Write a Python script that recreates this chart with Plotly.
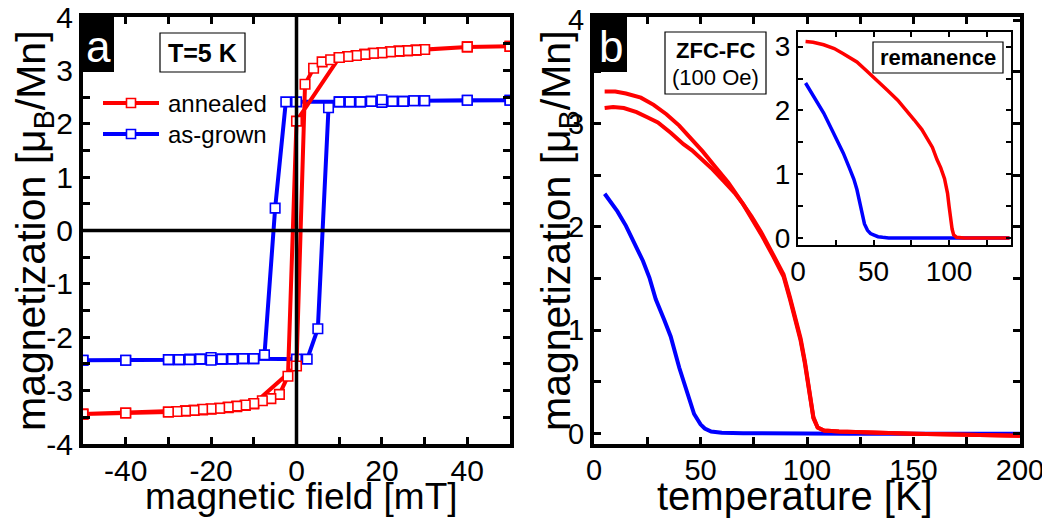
import plotly.graph_objects as go

# The page body adds an 8 px margin, so the figure is 8 px smaller and all
# reference pixel positions are shifted by that offset.
OFF = 8
W, H = 1050 - OFF, 518 - OFF
FONT = "Liberation Sans, Arial, sans-serif"
RED = "#FF0000"
BLUE = "#0000FF"

# ---------------- data: panel a (hysteresis at 5 K) ----------------
ann_asc_H = [-50, -40, -30, -28, -26, -24, -22, -20, -18, -16, -14, -12, -10, 0,
             2, 4, 6, 8, 10, 12, 14, 16, 18, 20, 22, 24, 26, 28, 30, 40, 50]
ann_asc_M = [-3.44, -3.42, -3.40, -3.39, -3.38, -3.37, -3.36, -3.35, -3.33, -3.32, -3.30, -3.28, -3.25, -2.54,
             2.74, 3.04, 3.16, 3.20, 3.24, 3.26, 3.28, 3.30, 3.32, 3.33, 3.35, 3.36, 3.37, 3.38, 3.39, 3.44, 3.45]
ann_desc_H = [50, 40, 30, 28, 26, 24, 22, 20, 18, 16, 14, 12, 10, 0,
              -2, -4, -6, -8, -10, -12, -14, -16, -18, -20, -22, -24, -26, -28, -30, -40, -50]
ann_desc_M = [3.45, 3.44, 3.39, 3.38, 3.37, 3.36, 3.35, 3.33, 3.32, 3.30, 3.28, 3.26, 3.24, 2.05,
              -2.73, -3.07, -3.15, -3.19, -3.24, -3.27, -3.29, -3.31, -3.33, -3.34, -3.35, -3.37, -3.38, -3.39, -3.40, -3.42, -3.44]

asg_asc_H = [-50, -40, -30, -27.5, -25, -22.5, -20, -17.5, -15, -12.5, -10, 0,
             2.5, 5, 7.5, 10, 12.5, 15, 17.5, 20, 22.5, 25, 27.5, 30, 40, 50]
asg_asc_M = [-2.43, -2.43, -2.42, -2.42, -2.41, -2.41, -2.38, -2.41, -2.40, -2.40, -2.40, -2.41,
             -2.41, -1.84, 2.30, 2.41, 2.41, 2.41, 2.42, 2.40, 2.42, 2.42, 2.43, 2.43, 2.44, 2.44]
asg_desc_H = [50, 40, 30, 27.5, 25, 22.5, 20, 17.5, 15, 12.5, 10, 0,
              -2.5, -5, -7.5, -10, -12.5, -15, -17.5, -20, -22.5, -25, -27.5, -30, -40, -50]
asg_desc_M = [2.44, 2.44, 2.43, 2.43, 2.42, 2.42, 2.45, 2.42, 2.41, 2.41, 2.41, 2.41,
              2.41, 0.42, -2.33, -2.40, -2.40, -2.41, -2.41, -2.43, -2.41, -2.42, -2.42, -2.42, -2.43, -2.43]

field_ticks = [-40, -20, 0, 20, 40]
field_labels = ["-40", "-20", "0", "20", "40"]
mag_ticks_a = [-4, -3, -2, -1, 0, 1, 2, 3, 4]
mag_labels_a = ["-4", "-3", "-2", "-1", "0", "1", "2", "3", "4"]

# ---------------- data: panel b (ZFC-FC, 100 Oe) ----------------
fc_T = [5, 10, 15, 22, 28, 34, 40, 45, 51, 57, 63, 68, 74, 79, 84, 89, 92, 95, 97, 99,
        101, 103, 105, 108, 115, 130, 150, 175, 200]
fc_M = [3.31, 3.31, 3.29, 3.25, 3.18, 3.09, 2.98, 2.87, 2.73, 2.58, 2.43, 2.28, 2.10, 1.93, 1.74, 1.54, 1.32, 1.10, 0.92, 0.70,
        0.42, 0.16, 0.06, 0.03, 0.02, 0.01, 0.0, -0.01, -0.02]
zfc_T = [5, 9, 14, 20, 25, 30, 36, 42, 46, 50, 55, 61, 66, 70, 74, 79, 84, 89, 92, 95,
         97, 99, 101, 103, 105, 108, 115, 130, 150, 175, 200]
zfc_M = [3.15, 3.16, 3.15, 3.11, 3.06, 3.01, 2.91, 2.80, 2.74, 2.67, 2.57, 2.44, 2.33, 2.22, 2.09, 1.91, 1.72, 1.52, 1.30, 1.08,
         0.90, 0.68, 0.40, 0.15, 0.06, 0.03, 0.02, 0.01, 0.0, -0.01, -0.02]
asg_T = [5, 8, 11, 15, 19, 23, 26, 29, 33, 36, 40, 43, 45, 47, 50, 52, 55, 60, 70, 90, 120, 160, 200]
asg_Mzfc = [2.32, 2.24, 2.15, 2.01, 1.85, 1.67, 1.51, 1.30, 1.10, 0.94, 0.64, 0.45, 0.33, 0.19, 0.09, 0.05, 0.02, 0.01,
            0.005, 0.0, 0.0, 0.0, 0.0]

# ---------------- data: inset (remanence) ----------------
ann_rem_T = [5, 10, 17, 24, 30, 39, 45, 52, 59, 66, 72, 77, 82, 86, 89, 92, 94.5, 97, 99, 100,
             101, 102, 103, 105, 110, 120, 130, 140]
ann_rem_M = [3.08, 3.07, 3.03, 2.97, 2.89, 2.76, 2.63, 2.48, 2.32, 2.16, 2.00, 1.85, 1.70, 1.54, 1.42, 1.23, 1.10, 0.93, 0.70, 0.50,
             0.30, 0.14, 0.05, 0.01, 0.0, 0.0, 0.0, 0.0]
asg_rem_T = [5, 10, 17, 23, 30, 34, 37, 39, 41.5, 44, 46, 48, 50, 53, 56, 60, 80, 100, 120, 140]
asg_rem_M = [2.43, 2.24, 1.96, 1.67, 1.33, 1.10, 0.92, 0.76, 0.46, 0.22, 0.12, 0.07, 0.05, 0.02, 0.01, 0.0, 0.0, 0.0, 0.0, 0.0]


def pxx(x):
    return (x - OFF) / W


def pyy(y):
    return 1 - (y - OFF) / H


fig = go.Figure()

sq = lambda c: dict(symbol="square", size=9.5, color="white", line=dict(color=c, width=1.6))

# panel a loops
fig.add_trace(go.Scatter(x=asg_asc_H + asg_desc_H, y=asg_asc_M + asg_desc_M, mode="lines+markers",
                         line=dict(color=BLUE, width=4), marker=sq(BLUE), name="as-grown",
                         xaxis="x", yaxis="y", showlegend=False))
fig.add_trace(go.Scatter(x=ann_asc_H + ann_desc_H, y=ann_asc_M + ann_desc_M, mode="lines+markers",
                         line=dict(color=RED, width=4), marker=sq(RED), name="annealed",
                         xaxis="x", yaxis="y", showlegend=False))

# panel b
fig.add_trace(go.Scatter(x=asg_T, y=asg_Mzfc, mode="lines", line=dict(color=BLUE, width=4),
                         xaxis="x2", yaxis="y2", showlegend=False))
fig.add_trace(go.Scatter(x=zfc_T, y=zfc_M, mode="lines", line=dict(color=RED, width=4),
                         xaxis="x2", yaxis="y2", showlegend=False))
fig.add_trace(go.Scatter(x=fc_T, y=fc_M, mode="lines", line=dict(color=RED, width=4),
                         xaxis="x2", yaxis="y2", showlegend=False))

# inset
fig.add_trace(go.Scatter(x=asg_rem_T, y=asg_rem_M, mode="lines", line=dict(color=BLUE, width=3.5),
                         xaxis="x3", yaxis="y3", showlegend=False))
fig.add_trace(go.Scatter(x=ann_rem_T, y=ann_rem_M, mode="lines", line=dict(color=RED, width=3.5),
                         xaxis="x3", yaxis="y3", showlegend=False))


def ax(domain, rng, dtick, minor, anchor, lw=4, tl=7, tw=3, fs=30, tv=None, tt=None, so=0):
    d = dict(domain=domain, range=rng, anchor=anchor, showline=True, linewidth=lw, linecolor="black",
             mirror="allticks", ticks="inside", ticklen=tl, tickwidth=tw, tickcolor="black",
             dtick=dtick, tick0=0, minor=dict(dtick=minor, tick0=0, ticks="inside", ticklen=tl, tickwidth=tw,
                                              tickcolor="black", showgrid=False),
             showgrid=False, zeroline=False, layer="above traces", automargin=False,
             ticklabeloverflow="allow", ticklabelstandoff=so,
             tickfont=dict(family=FONT, size=fs, color="black"))
    if tv is not None:
        d.update(tickmode="array", tickvals=tv, ticktext=tt)
    return d


dom_y = [pyy(444), pyy(17)]
fig.update_layout(
    width=W, height=H, margin=dict(l=0, r=0, t=0, b=0, pad=0, autoexpand=False),
    paper_bgcolor="white", plot_bgcolor="white", showlegend=False,
    xaxis=ax([pxx(83), pxx(510)], [-50, 50], 20, 10, "y", tv=field_ticks, tt=field_labels, so=-3),
    yaxis=ax(dom_y, [-4, 4], 1, 0.5, "x", tv=mag_ticks_a, tt=mag_labels_a),
    xaxis2=ax([pxx(594), pxx(1020)], [0, 200], 50, 25, "y2", fs=29, so=-3),
    yaxis2=ax(dom_y, [-0.1, 4.03], 1, 0.5, "x2", fs=29),
    xaxis3=ax([pxx(798), pxx(1011)], [0, 141], 50, 25, "y3", lw=2, tl=5, tw=2, fs=28),
    yaxis3=ax([pyy(245), pyy(32)], [-0.11, 3.23], 1, 0.5, "x3", lw=2, tl=5, tw=2, fs=28),
)

shapes = []
ann = []
# zero lines in panel a (drawn above the data)
shapes.append(dict(type="line", xref="x", yref="y", x0=0, x1=0, y0=-4, y1=4,
                   line=dict(color="black", width=3.5), layer="above"))
shapes.append(dict(type="line", xref="x", yref="y", x0=-50, x1=50, y0=0, y1=0,
                   line=dict(color="black", width=3.5), layer="above"))


def rect(x0, y0, x1, y1, fill, lw, lc="black"):
    shapes.append(dict(type="rect", xref="paper", yref="paper", x0=pxx(x0), x1=pxx(x1), y0=pyy(y1), y1=pyy(y0),
                       fillcolor=fill, line=dict(color=lc, width=lw), layer="above"))


def text(x, y, s, size, color="black", xanchor="center", angle=0):
    ann.append(dict(x=pxx(x), y=pyy(y), xref="paper", yref="paper", text=s, showarrow=False,
                    xanchor=xanchor, yanchor="middle", textangle=angle,
                    font=dict(family=FONT, size=size, color=color)))


# panel labels
rect(83, 17, 114, 72, "black", 0)
text(98.5, 47, "a", 44, "white")
rect(594, 17, 627, 72, "black", 0)
text(610.5, 47, "b", 44, "white")

# info boxes
rect(160, 33, 245, 72, "white", 1.2)
text(202.5, 53, "<b>T=5 K</b>", 25)
rect(665, 32, 766, 94, "white", 1.2)
text(715.5, 50, "<b>ZFC-FC</b>", 22)
text(715.5, 78, "(100 Oe)", 22)
rect(873, 42, 1003, 73, "white", 1.2)
text(938, 58, "<b>remanence</b>", 22)

# legend (panel a)
for yy, c, lab in [(103, RED, "annealed"), (134, BLUE, "as-grown")]:
    shapes.append(dict(type="line", xref="paper", yref="paper", x0=pxx(103), x1=pxx(159), y0=pyy(yy), y1=pyy(yy),
                       line=dict(color=c, width=4), layer="above"))
    rect(126.5, yy - 4.5, 135.5, yy + 4.5, "white", 1.6, c)
    text(166, yy, lab, 24, xanchor="left")

# axis titles
text(301, 496, "magnetic field [mT]", 37)
text(795, 496, "temperature [K]", 40)
text(34, 231, "magnetization [μ<sub>B</sub>/Mn]", 41, angle=-90)
text(559, 231, "magnetization [μ<sub>B</sub>/Mn]", 41, angle=-90)

fig.update_layout(shapes=shapes, annotations=ann)
fig.write_html("out.html")
